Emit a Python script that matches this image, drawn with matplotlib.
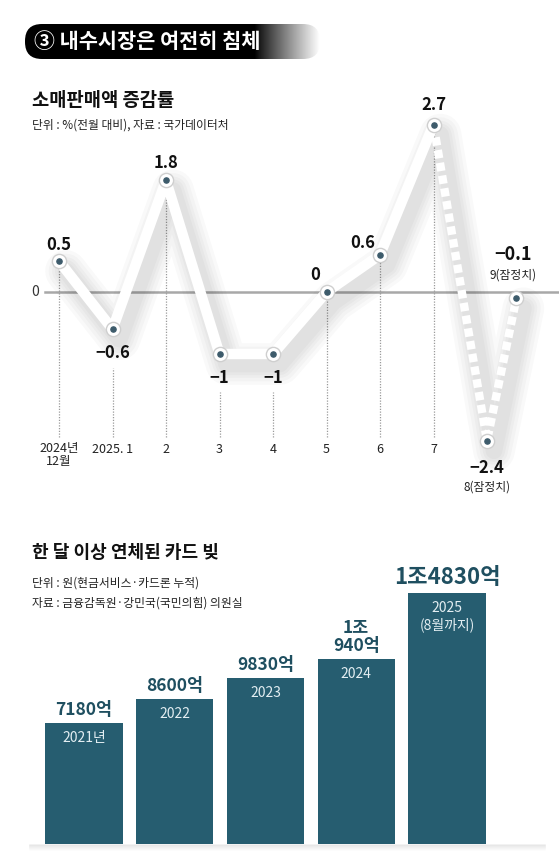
import numpy as np
import matplotlib
matplotlib.use("Agg")
import matplotlib.pyplot as plt
from matplotlib import transforms
from matplotlib.patches import FancyBboxPatch

plt.rcParams['font.family'] = ['Noto Sans CJK KR', 'DejaVu Sans']

# ---------------- data ----------------
months = ['2024년\n12월', '2025. 1', '2', '3', '4', '5', '6', '7', '8(잠정치)', '9(잠정치)']
retail_change = [0.5, -0.6, 1.8, -1, -1, 0, 0.6, 2.7, -2.4, -0.1]
retail_labels = ['0.5', '−0.6', '1.8', '−1', '−1', '0', '0.6', '2.7', '−2.4', '−0.1']

years = ['2021년', '2022', '2023', '2024', '2025\n(8월까지)']
card_debt = [7180, 8600, 9830, 10940, 14830]   # 억 원
card_labels = ['7180억', '8600억', '9830억', '1조\n940억', '1조4830억']

# ---------------- figure ----------------
W, H = 559, 866
fig = plt.figure(figsize=(W / 100, H / 100), dpi=100)
fig.patch.set_facecolor('white')

# decoration / text layer in pixel coordinates
ax0 = fig.add_axes([0, 0, 1, 1], zorder=0)
ax0.set_xlim(0, W)
ax0.set_ylim(H, 0)
ax0.axis('off')

# title banner with gradient
x_g = np.linspace(25, 320, 400)
fade = np.clip((x_g - 255) / (320 - 255), 0, 1) ** 0.9
img = np.dstack([fade, fade, fade]).repeat(2, axis=0)
im = ax0.imshow(img, extent=[25, 320, 59, 24], aspect='auto', zorder=1, interpolation='bilinear')
clip = FancyBboxPatch((25, 24), 295, 35, boxstyle='round,pad=0,rounding_size=17',
                      transform=ax0.transData, facecolor='none', edgecolor='none')
ax0.add_patch(clip)
im.set_clip_path(clip)
ax0.set_xlim(0, W)
ax0.set_ylim(H, 0)
ax0.text(34, 42, '③ 내수시장은 여전히 침체', color='white', fontsize=15, fontweight='bold',
         va='center', ha='left', zorder=2)

ax0.text(32, 100, '소매판매액 증감률', fontsize=13.5, fontweight='bold', color='#111111',
         va='center', ha='left')
ax0.text(32, 125, '단위 : %(전월 대비), 자료 : 국가데이터처', fontsize=8.5, color='#222222',
         va='center', ha='left')

ax0.text(32, 552, '한 달 이상 연체된 카드 빚', fontsize=13, fontweight='bold', color='#111111',
         va='center', ha='left')
ax0.text(32, 583, '단위 : 원(현금서비스·카드론 누적)', fontsize=8.5, color='#222222',
         va='center', ha='left')
ax0.text(32, 603, '자료 : 금융감독원·강민국(국민의힘) 의원실', fontsize=8.5, color='#222222',
         va='center', ha='left')

# ---------------- line chart ----------------
px0, pstep = 59, 53.5
zero_py, unit = 292, 62
ax1 = fig.add_axes([0, 1 - 500 / H, 1, 400 / H], zorder=2)
ax1.set_xlim(-px0 / pstep, (W - px0) / pstep)
ax1.set_ylim((zero_py - 500) / unit, (zero_py - 100) / unit)
ax1.axis('off')
ax1.patch.set_alpha(0)

xpos = np.r_[np.arange(9), 8.55]
vals = np.array(retail_change)

# zero line
ax1.axhline(0, xmin=45 / W, xmax=1, color='#a8a8a8', lw=1.8, zorder=1)
ax1.text(-px0 / pstep + 35 / pstep, 0, '0', fontsize=10, color='#333333', ha='center', va='center')

# dotted guide lines and month labels
label_y = (zero_py - 450) / unit
guide_bottom = (zero_py - 437) / unit
for i in range(8):
    v = vals[i]
    top = v - 0.12 if v >= 0 else v - 0.62
    ax1.plot([xpos[i], xpos[i]], [guide_bottom, top], color='#9a9a9a', lw=0.9,
             ls=(0, (1, 1.2)), zorder=1)
    two = '\n' in months[i]
    ax1.text(xpos[i], label_y + (0.13 if two else 0), months[i], fontsize=9, color='#222222',
             ha='center', va='top' if two else 'center', linespacing=1.05)

# soft shadow
for lw in [30, 25, 20, 16, 12]:
    tr = transforms.offset_copy(ax1.transData, fig=fig, x=7, y=-10, units='dots')
    ax1.plot(xpos, vals, color='black', alpha=0.022, lw=lw, transform=tr,
             solid_joinstyle='round', solid_capstyle='round', zorder=2)

# solid and dashed lines
ax1.plot(xpos[:8], vals[:8], color='white', lw=7.5, solid_joinstyle='round',
         solid_capstyle='round', zorder=3)
ax1.plot(xpos[7:], vals[7:], color='white', lw=6, ls=(0, (1, 0.55)),
         dash_capstyle='butt', zorder=3)

# markers
ax1.scatter(xpos, vals, s=105, color='white', edgecolor='#cfcfcf', linewidth=1, zorder=4)
ax1.scatter(xpos, vals, s=14, color='#3d5b6b', zorder=5)

# value labels
offsets = [(0, 16), (0, -24), (0, 17), (0, -24), (0, -24), (-11, 17), (-17, 12), (0, 20), (0, -27), (-3, 44)]
for i in range(10):
    dx, dy = offsets[i]
    ax1.annotate(retail_labels[i], (xpos[i], vals[i]), xytext=(dx * 0.72, dy * 0.72),
                 textcoords='offset points', ha='center', va='center',
                 fontsize=13 if i == 9 else 12, fontweight='bold', color='#111111', zorder=6)
for i, dy in [(8, -46), (9, 23)]:
    dx = offsets[i][0]
    ax1.annotate(months[i], (xpos[i], vals[i]), xytext=(dx * 0.72, dy * 0.72),
                 textcoords='offset points', ha='center', va='center',
                 fontsize=8.5, color='#222222', zorder=6)

# ---------------- bar chart ----------------
bx0, bstep = 84, 90.75
scale = 0.0169  # px per 억
base_py = 844
ax2 = fig.add_axes([0, 1 - base_py / H, 1, 284 / H], zorder=2)
ax2.set_xlim(-bx0 / bstep, (W - bx0) / bstep)
ax2.set_ylim(0, 284 / scale)
ax2.axis('off')
ax2.patch.set_alpha(0)

bx = np.arange(len(years))
bars = ax2.bar(bx, card_debt, width=0.85, color='#265d70', zorder=3)

# soft shadow under bars
for k in range(6):
    ax0.plot([30, 545], [base_py + 1 + k, base_py + 1 + k], color='black',
             alpha=0.06 * (6 - k) / 6, lw=1.2, zorder=1)

for i, b in enumerate(bars):
    big = i == 4
    ax2.annotate(card_labels[i], (bx[i], card_debt[i]), xytext=(0, 4 * 0.72),
                 textcoords='offset points', ha='center', va='bottom',
                 fontsize=16 if big else 12.5, fontweight='bold', color='#1f4f60',
                 linespacing=1.0, zorder=4)
    ax2.annotate(years[i], (bx[i], card_debt[i]), xytext=(0, -8 * 0.72),
                 textcoords='offset points', ha='center', va='top',
                 fontsize=10, color='#e3eef2', linespacing=1.15, zorder=4)

fig.savefig('out.png', dpi=100, facecolor='white')
